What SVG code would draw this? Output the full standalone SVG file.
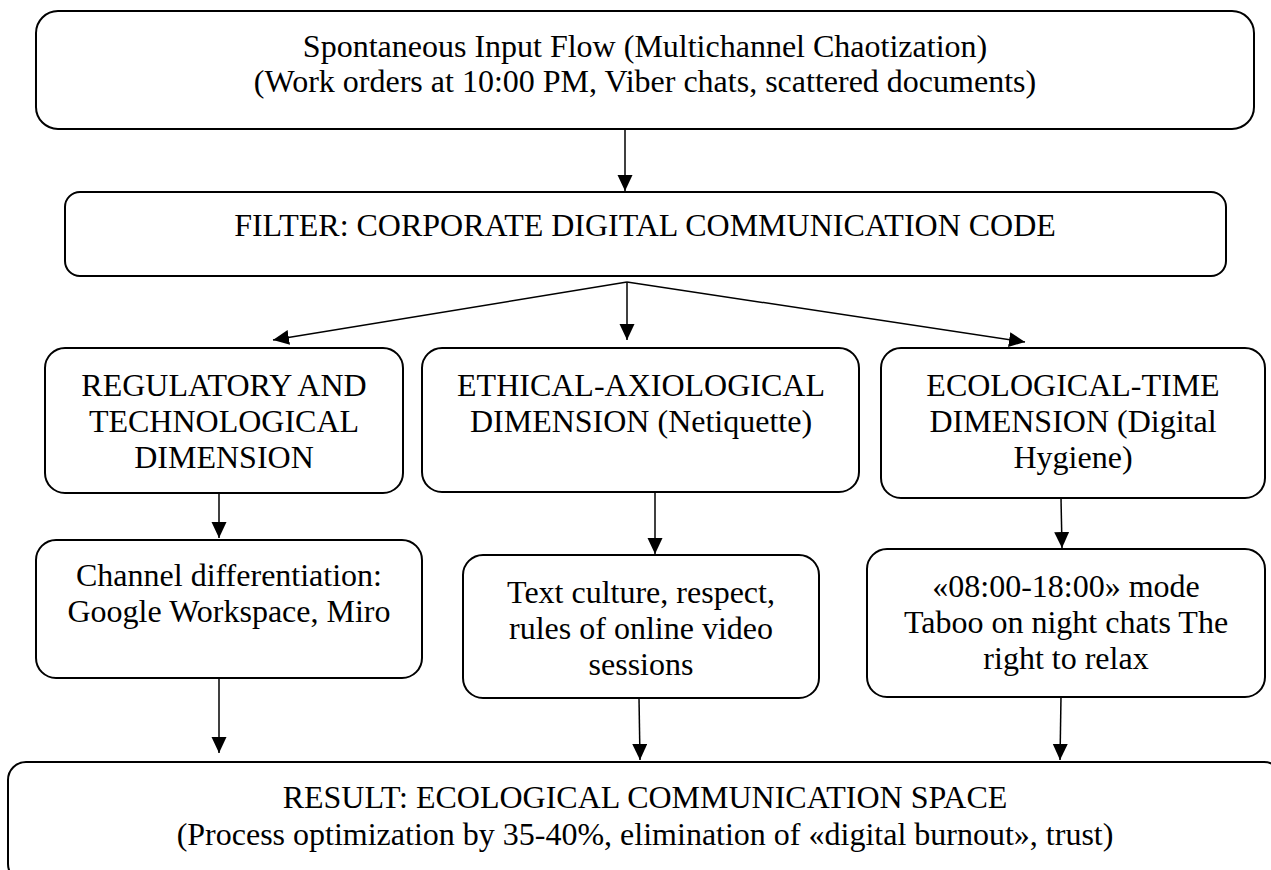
<svg xmlns="http://www.w3.org/2000/svg" width="1271" height="870" viewBox="0 0 1271 870">
<defs>
<style>
.box{fill:#fff;stroke:#000;stroke-width:2}
.t{font-family:'Liberation Serif','Times New Roman',serif;font-size:32px;fill:#000;text-anchor:middle}
.c{stroke:#000;stroke-width:1.5;fill:none;marker-end:url(#ah)}
</style>
<marker id="ah" markerUnits="userSpaceOnUse" markerWidth="17" markerHeight="16" refX="16" refY="7.5" orient="auto">
<path d="M0,0 L16,7.5 L0,15 z" fill="#000"/>
</marker>
</defs>
<rect width="1271" height="870" fill="#fff"/>
<g id="connectors">
<line class="c" x1="625" y1="129" x2="625" y2="191"/>
<line class="c" x1="627" y1="282" x2="273" y2="340"/>
<line class="c" x1="627" y1="282" x2="627" y2="340"/>
<line class="c" x1="627" y1="282" x2="1025" y2="342"/>
<line class="c" x1="219" y1="493" x2="219" y2="538"/>
<line class="c" x1="655" y1="492" x2="655" y2="554"/>
<line class="c" x1="1061" y1="498" x2="1062" y2="548"/>
<line class="c" x1="219" y1="678" x2="219" y2="753"/>
<line class="c" x1="639" y1="698" x2="640" y2="760"/>
<line class="c" x1="1061" y1="697" x2="1060" y2="760"/>
</g>
<g id="input">
<rect class="box" x="36" y="11" width="1218" height="118" rx="22"/>
<text class="t" x="645" y="57">Spontaneous Input Flow (Multichannel Chaotization)</text>
<text class="t" x="645" y="92">(Work orders at 10:00 PM, Viber chats, scattered documents)</text>
</g>
<g id="filter">
<rect class="box" x="65" y="192" width="1161" height="84" rx="15"/>
<text class="t" x="645" y="236">FILTER: CORPORATE DIGITAL COMMUNICATION CODE</text>
</g>
<g id="regulatory">
<rect class="box" x="45" y="348" width="358" height="145" rx="20"/>
<text class="t" x="224" y="396">REGULATORY AND</text>
<text class="t" x="224" y="432">TECHNOLOGICAL</text>
<text class="t" x="224" y="468">DIMENSION</text>
</g>
<g id="ethical">
<rect class="box" x="422" y="348" width="437" height="144" rx="20"/>
<text class="t" x="641" y="396">ETHICAL-AXIOLOGICAL</text>
<text class="t" x="641" y="432">DIMENSION (Netiquette)</text>
</g>
<g id="ecological">
<rect class="box" x="881" y="348" width="384" height="150" rx="20"/>
<text class="t" x="1073" y="396">ECOLOGICAL-TIME</text>
<text class="t" x="1073" y="432">DIMENSION (Digital</text>
<text class="t" x="1073" y="468">Hygiene)</text>
</g>
<g id="channel">
<rect class="box" x="36" y="540" width="386" height="138" rx="20"/>
<text class="t" x="229" y="586">Channel differentiation:</text>
<text class="t" x="229" y="622">Google Workspace, Miro</text>
</g>
<g id="textculture">
<rect class="box" x="463" y="555" width="356" height="143" rx="20"/>
<text class="t" x="641" y="603">Text culture, respect,</text>
<text class="t" x="641" y="639">rules of online video</text>
<text class="t" x="641" y="675">sessions</text>
</g>
<g id="mode">
<rect class="box" x="867" y="549" width="398" height="148" rx="20"/>
<text class="t" x="1066" y="597">«08:00-18:00» mode</text>
<text class="t" x="1066" y="633">Taboo on night chats The</text>
<text class="t" x="1066" y="669">right to relax</text>
</g>
<g id="result">
<rect class="box" x="8" y="762" width="1274" height="120" rx="18"/>
<text class="t" x="645" y="808">RESULT: ECOLOGICAL COMMUNICATION SPACE</text>
<text class="t" x="645" y="845">(Process optimization by 35-40%, elimination of «digital burnout», trust)</text>
</g>
</svg>
